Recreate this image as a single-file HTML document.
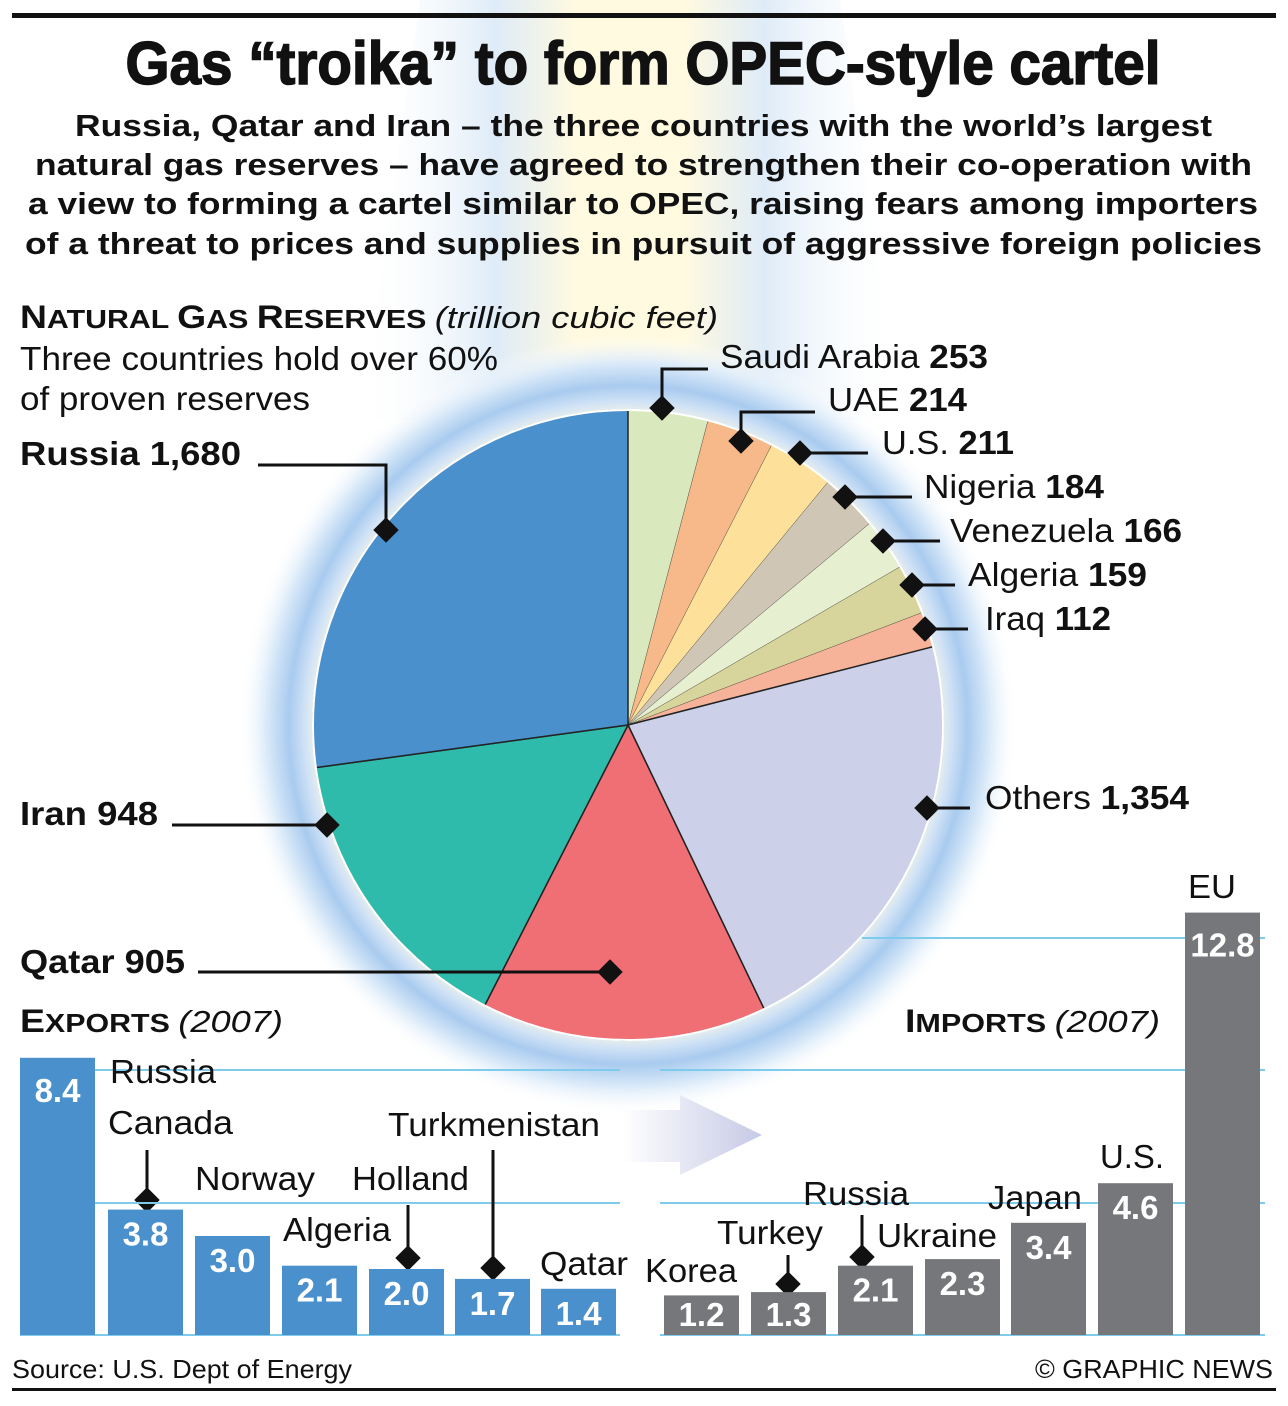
<!DOCTYPE html>
<html><head><meta charset="utf-8"><style>
html,body{margin:0;padding:0;background:#fff;}
svg{display:block;font-family:"Liberation Sans",Arial,sans-serif;}
</style></head><body>
<svg id="s" width="1288" height="1406" viewBox="0 0 1288 1406" xmlns="http://www.w3.org/2000/svg">
<defs>
<radialGradient id="glow" cx="628" cy="725" r="390" gradientUnits="userSpaceOnUse">
<stop offset="0.78" stop-color="#fffbe0"/>
<stop offset="0.83" stop-color="#d0e2f6"/>
<stop offset="0.87" stop-color="#a9cbef"/>
<stop offset="0.93" stop-color="#dcebf9"/>
<stop offset="1" stop-color="#ffffff" stop-opacity="0"/>
</radialGradient>
<linearGradient id="beam" x1="0" y1="0" x2="1" y2="0">
<stop offset="0" stop-color="#fff" stop-opacity="0"/>
<stop offset="0.25" stop-color="#d6e6f6"/>
<stop offset="0.4" stop-color="#fff8d8"/>
<stop offset="0.6" stop-color="#fff8d8"/>
<stop offset="0.75" stop-color="#d6e6f6"/>
<stop offset="1" stop-color="#fff" stop-opacity="0"/>
</linearGradient>
<linearGradient id="arr" x1="0" y1="0" x2="1" y2="0">
<stop offset="0" stop-color="#fff"/>
<stop offset="1" stop-color="#c6c9e6"/>
</linearGradient>
</defs>
<rect width="1288" height="1406" fill="#fff"/>
<path d="M420 0 L840 0 L900 420 L360 420 Z" fill="url(#beam)" opacity="0.8"/>
<circle cx="628" cy="725" r="390" fill="url(#glow)"/>
<rect x="12" y="13" width="1264" height="5" fill="#111"/>
<g id="pie"></g>
<g fill="#111">
<text x="643" y="84" font-size="60" font-weight="bold" text-anchor="middle" textLength="1035" lengthAdjust="spacingAndGlyphs" stroke="#111" stroke-width="1.5">Gas “troika” to form OPEC-style cartel</text>
<g font-size="31" font-weight="bold">
<text x="75" y="136" textLength="1137" lengthAdjust="spacingAndGlyphs">Russia, Qatar and Iran – the three countries with the world’s largest</text>
<text x="35" y="175" textLength="1217" lengthAdjust="spacingAndGlyphs">natural gas reserves – have agreed to strengthen their co-operation with</text>
<text x="28" y="214" textLength="1230" lengthAdjust="spacingAndGlyphs">a view to forming a cartel similar to OPEC, raising fears among importers</text>
<text x="25" y="254" textLength="1237" lengthAdjust="spacingAndGlyphs">of a threat to prices and supplies in pursuit of aggressive foreign policies</text>
</g>
<text x="20" y="328" font-size="32" font-weight="bold" textLength="698" lengthAdjust="spacingAndGlyphs">N<tspan font-size="26">ATURAL </tspan>G<tspan font-size="26">AS </tspan>R<tspan font-size="26">ESERVES </tspan><tspan font-weight="normal" font-style="italic" font-size="31">(trillion cubic feet)</tspan></text>
<text x="20" y="370" font-size="33" textLength="478" lengthAdjust="spacingAndGlyphs">Three countries hold over 60%</text>
<text x="20" y="410" font-size="33" textLength="290" lengthAdjust="spacingAndGlyphs">of proven reserves</text>
<g font-size="33" lengthAdjust="spacingAndGlyphs">
<text x="20" y="465" font-weight="bold" textLength="221" lengthAdjust="spacingAndGlyphs">Russia 1,680</text>
<text x="20" y="825" font-weight="bold" textLength="138" lengthAdjust="spacingAndGlyphs">Iran 948</text>
<text x="20" y="973" font-weight="bold" textLength="165" lengthAdjust="spacingAndGlyphs">Qatar 905</text>
<text x="720" y="368" textLength="268" lengthAdjust="spacingAndGlyphs">Saudi Arabia <tspan font-weight="bold">253</tspan></text>
<text x="828" y="411" textLength="139" lengthAdjust="spacingAndGlyphs">UAE <tspan font-weight="bold">214</tspan></text>
<text x="882" y="454" textLength="132" lengthAdjust="spacingAndGlyphs">U.S. <tspan font-weight="bold">211</tspan></text>
<text x="924" y="498" textLength="180" lengthAdjust="spacingAndGlyphs">Nigeria <tspan font-weight="bold">184</tspan></text>
<text x="950" y="542" textLength="232" lengthAdjust="spacingAndGlyphs">Venezuela <tspan font-weight="bold">166</tspan></text>
<text x="968" y="586" textLength="179" lengthAdjust="spacingAndGlyphs">Algeria <tspan font-weight="bold">159</tspan></text>
<text x="985" y="630" textLength="126" lengthAdjust="spacingAndGlyphs">Iraq <tspan font-weight="bold">112</tspan></text>
<text x="985" y="809" textLength="204" lengthAdjust="spacingAndGlyphs">Others <tspan font-weight="bold">1,354</tspan></text>
</g>
</g>
<g stroke="#111" stroke-width="3" fill="none">
<polyline points="662,408 662,369 708,369"/>
<polyline points="741,441 741,412 815,412"/>
<polyline points="800,453 868,453"/>
<polyline points="845,497 912,497"/>
<polyline points="883,541 940,541"/>
<polyline points="912,585 955,585"/>
<polyline points="925,629 968,629"/>
<polyline points="927,808 970,808"/>
<polyline points="386,530 386,465 258,465"/>
<polyline points="327,825 172,825"/>
<polyline points="610,972 198,972"/>
</g>
<g id="dia" fill="#111"></g>
<g stroke="#7fcbec" stroke-width="2">
<line x1="20" y1="1070" x2="620" y2="1070"/><line x1="20" y1="1203" x2="620" y2="1203"/><line x1="20" y1="1335" x2="620" y2="1335"/>
<line x1="660" y1="1070" x2="1265" y2="1070"/><line x1="660" y1="1203" x2="1265" y2="1203"/><line x1="660" y1="1335" x2="1265" y2="1335"/>
<line x1="862" y1="938" x2="1265" y2="938"/>
</g>
<path d="M622 1110 L680 1110 L680 1095 L762 1135 L680 1175 L680 1162 L622 1162 Z" fill="url(#arr)"/>
<g id="bars"></g>
<g fill="#111" font-size="33">
<text x="20" y="1032" font-size="32" font-weight="bold" textLength="263" lengthAdjust="spacingAndGlyphs">E<tspan font-size="26">XPORTS </tspan><tspan font-weight="normal" font-style="italic" font-size="31">(2007)</tspan></text>
<text x="905" y="1032" font-size="32" font-weight="bold" textLength="255" lengthAdjust="spacingAndGlyphs">I<tspan font-size="26">MPORTS </tspan><tspan font-weight="normal" font-style="italic" font-size="31">(2007)</tspan></text>
<text x="110" y="1083" textLength="106" lengthAdjust="spacingAndGlyphs">Russia</text>
<text x="108" y="1134" textLength="125" lengthAdjust="spacingAndGlyphs">Canada</text>
<text x="195" y="1190" textLength="120" lengthAdjust="spacingAndGlyphs">Norway</text>
<text x="283" y="1241" textLength="108" lengthAdjust="spacingAndGlyphs">Algeria</text>
<text x="352" y="1190" textLength="117" lengthAdjust="spacingAndGlyphs">Holland</text>
<text x="388" y="1136" textLength="212" lengthAdjust="spacingAndGlyphs">Turkmenistan</text>
<text x="540" y="1275" textLength="88" lengthAdjust="spacingAndGlyphs">Qatar</text>
<text x="645" y="1282" textLength="92" lengthAdjust="spacingAndGlyphs">Korea</text>
<text x="717" y="1244" textLength="106" lengthAdjust="spacingAndGlyphs">Turkey</text>
<text x="803" y="1205" textLength="106" lengthAdjust="spacingAndGlyphs">Russia</text>
<text x="877" y="1247" textLength="120" lengthAdjust="spacingAndGlyphs">Ukraine</text>
<text x="988" y="1209" textLength="94" lengthAdjust="spacingAndGlyphs">Japan</text>
<text x="1100" y="1168" textLength="64" lengthAdjust="spacingAndGlyphs">U.S.</text>
<text x="1188" y="898" textLength="48" lengthAdjust="spacingAndGlyphs">EU</text>
<text x="12" y="1378" font-size="26" textLength="340" lengthAdjust="spacingAndGlyphs">Source: U.S. Dept of Energy</text>
<text x="1035" y="1378" font-size="26" textLength="238" lengthAdjust="spacingAndGlyphs">© GRAPHIC NEWS</text>
</g>
<g stroke="#111" stroke-width="3">
<line x1="147" y1="1150" x2="147" y2="1200"/>
<line x1="408" y1="1205" x2="408" y2="1258"/>
<line x1="493" y1="1150" x2="493" y2="1268"/>
<line x1="788" y1="1255" x2="788" y2="1284"/>
<line x1="862" y1="1215" x2="862" y2="1257"/>
</g>
<rect x="12" y="1388" width="1264" height="3" fill="#111"/>
</svg>
<script>
var NS="http://www.w3.org/2000/svg";
function el(t,a,p){var e=document.createElementNS(NS,t);for(var k in a)e.setAttribute(k,a[k]);p.appendChild(e);return e;}
var d=[[253,"#d9e8bd"],[214,"#f7b98a"],[211,"#fde09a"],[184,"#cfc6b5"],[166,"#e6efd0"],[159,"#d8d59c"],[112,"#f6b39a"],[1354,"#ccd1e9"],[905,"#ef6f74"],[948,"#2fbbab"],[1680,"#4a90cc"]];
var tot=0;d.forEach(function(x){tot+=x[0];});
var cx=628,cy=725,r=315,a=0,pie=document.getElementById("pie");
d.forEach(function(x){var a2=a+x[0]/tot*2*Math.PI;
var x1=cx+r*Math.sin(a),y1=cy-r*Math.cos(a),x2=cx+r*Math.sin(a2),y2=cy-r*Math.cos(a2);
el("path",{d:"M"+cx+" "+cy+" L"+x1+" "+y1+" A"+r+" "+r+" 0 "+((a2-a)>Math.PI?1:0)+" 1 "+x2+" "+y2+" Z",fill:x[1],stroke:"#222","stroke-width":(x[0]>800?1.5:0.3)},pie);a=a2;});
el("circle",{cx:cx,cy:cy,r:r,fill:"none",stroke:"#fff","stroke-width":2},pie);
var dia=document.getElementById("dia");
[[662,408],[741,441],[800,453],[845,497],[883,541],[912,585],[925,629],[927,808],[386,530],[327,825],[610,972],
 [147,1200],[408,1258],[493,1268],[788,1284],[862,1257]].forEach(function(p){
el("rect",{x:p[0]-9,y:p[1]-9,width:18,height:18,transform:"rotate(45 "+p[0]+" "+p[1]+")"},dia);});
var bars=document.getElementById("bars");
function bar(x,v,c){var h=v*33,y=1335-h;el("rect",{x:x,y:y,width:75,height:h,fill:c},bars);
var by=Math.min(y+36,1326); if(v>8)by=y+44;
var t=el("text",{x:x+37.5,y:by,"font-size":33,"font-weight":"bold",fill:"#fff","text-anchor":"middle"},bars);t.textContent=v.toFixed(1);}
[[20,8.4],[108,3.8],[195,3.0],[282,2.1],[369,2.0],[455,1.7],[541,1.4]].forEach(function(b){bar(b[0],b[1],"#4a90cc");});
[[664,1.2],[751,1.3],[838,2.1],[925,2.3],[1011,3.4],[1098,4.6],[1185,12.8]].forEach(function(b){bar(b[0],b[1],"#76777b");});
</script>
</body></html>
